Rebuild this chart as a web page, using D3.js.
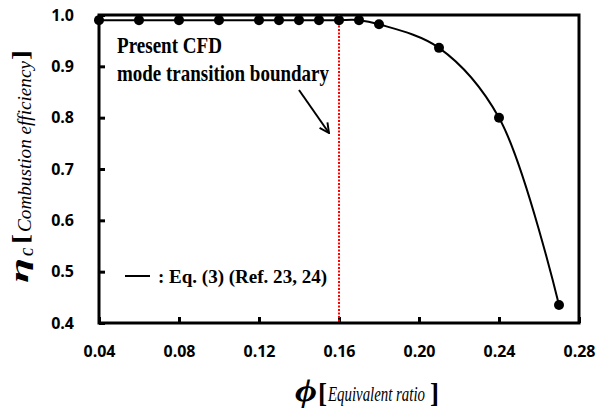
<!DOCTYPE html>
<html>
<head>
<meta charset="utf-8">
<script src="https://cdn.jsdelivr.net/npm/d3@7"></script>
<style>
  html, body { margin: 0; padding: 0; background: #fff; }
  svg { display: block; }
  .serif { font-family: "Liberation Serif", "Times New Roman", Times, "DejaVu Serif", serif; }
  .tick text { font-family: "Open Sans", "Noto Sans", sans-serif; }
</style>
</head>
<body>
<svg id="chart" width="605" height="409"></svg>
<script>
// ---- data ----
const phiValues = [0.04, 0.06, 0.08, 0.10, 0.12, 0.13, 0.14, 0.15, 0.16, 0.17, 0.18, 0.21, 0.24, 0.27];
const etaValues = [0.99, 0.99, 0.99, 0.99, 0.99, 0.99, 0.99, 0.99, 0.99, 0.99, 0.982, 0.936, 0.80, 0.435];
const xTicks = [0.04, 0.08, 0.12, 0.16, 0.20, 0.24, 0.28];
const yTicks = [0.4, 0.5, 0.6, 0.7, 0.8, 0.9, 1.0];
const boundaryPhi = [0.16];
const legendLabel = [": Eq. (3) (Ref. 23, 24)"];
const annotationLines = ["Present CFD", "mode transition boundary"];
const yTitleParts = ["η", "C", "[", "Combustion efficiency", "]"];
const xTitleParts = ["ϕ", "[", "Equivalent ratio", "]"];

const svg = d3.select("#chart");
const m = { left: 99, right: 579, top: 15, bottom: 323 };
const x = d3.scaleLinear().domain([0.04, 0.28]).range([m.left, m.right]);
const y = d3.scaleLinear().domain([0.4, 1.0]).range([m.bottom, m.top]);

// frame
svg.append("rect")
  .attr("x", m.left).attr("y", m.top)
  .attr("width", m.right - m.left).attr("height", m.bottom - m.top)
  .attr("fill", "none").attr("stroke", "#000").attr("stroke-width", 3);

// axes
const xAxis = d3.axisBottom(x).tickValues(xTicks).tickSizeInner(-6).tickSizeOuter(0)
  .tickFormat(d3.format(".2f")).tickPadding(23);
const gx = svg.append("g").attr("transform", `translate(0,${m.bottom})`).call(xAxis);
gx.select(".domain").remove();
gx.attr("font-family", null);
gx.selectAll(".tick line").attr("stroke", "#000").attr("stroke-width", 3);
gx.selectAll(".tick text").attr("font-weight", "bold").attr("font-size", 16).attr("fill", "#000");

const yAxis = d3.axisLeft(y).tickValues(yTicks).tickSizeInner(-6).tickSizeOuter(0)
  .tickFormat(d3.format(".1f")).tickPadding(25);
const gy = svg.append("g").attr("transform", `translate(${m.left},0)`).call(yAxis);
gy.select(".domain").remove();
gy.attr("font-family", null);
gy.selectAll(".tick line").attr("stroke", "#000").attr("stroke-width", 3);
gy.selectAll(".tick text").attr("font-weight", "bold").attr("font-size", 16).attr("fill", "#000");

// boundary line
svg.selectAll(".boundary").data(boundaryPhi).enter().append("line")
  .attr("x1", d => x(d)).attr("x2", d => x(d))
  .attr("y1", m.top).attr("y2", m.bottom)
  .attr("stroke", "#ff0000").attr("stroke-width", 2).attr("stroke-dasharray", "2,1.5");

// data
const pts = phiValues.map((p, i) => [p, etaValues[i]]);
const line = d3.line().x(d => x(d[0])).y(d => y(d[1])).curve(d3.curveCatmullRom.alpha(0.5));
svg.append("path").datum(pts).attr("d", line)
  .attr("fill", "none").attr("stroke", "#000").attr("stroke-width", 2);
svg.selectAll(".pt").data(pts).enter().append("circle")
  .attr("cx", d => x(d[0])).attr("cy", d => y(d[1])).attr("r", 5).attr("fill", "#000");

// annotation
const annLayout = [{ y: 53, len: 105 }, { y: 81, len: 212 }];
svg.selectAll(".ann").data(annotationLines).enter().append("text")
  .attr("class", "serif")
  .attr("x", 117).attr("y", (d, i) => annLayout[i].y)
  .attr("font-weight", "bold").attr("font-size", 22.5).attr("fill", "#000")
  .attr("textLength", (d, i) => annLayout[i].len).attr("lengthAdjust", "spacingAndGlyphs")
  .text(d => d);

// arrow
svg.append("defs").append("marker").attr("id", "ah")
  .attr("viewBox", "0 0 10 10").attr("refX", 9).attr("refY", 5)
  .attr("markerWidth", 6).attr("markerHeight", 6).attr("orient", "auto")
  .append("path").attr("d", "M1,1 L9,5 L1,9").attr("fill", "none").attr("stroke", "#000").attr("stroke-width", 1.6);
svg.append("line").attr("x1", 299).attr("y1", 90).attr("x2", 329).attr("y2", 133)
  .attr("stroke", "#000").attr("stroke-width", 2).attr("marker-end", "url(#ah)");

// legend
svg.append("line").attr("x1", 125).attr("x2", 150).attr("y1", 276).attr("y2", 276)
  .attr("stroke", "#000").attr("stroke-width", 2);
svg.selectAll(".leg").data(legendLabel).enter().append("text")
  .attr("class", "serif")
  .attr("x", 158).attr("y", 283)
  .attr("font-weight", "bold").attr("font-size", 19.5)
  .attr("textLength", 169).attr("lengthAdjust", "spacingAndGlyphs")
  .attr("fill", "#000").text(d => d);

// y title (rotated pieces)
const yLayout = [
  { bx: 28, y0: 283, len: 25, fs: 26, st: "italic", w: "bold" },
  { bx: 33, y0: 256, len: 8, fs: 14, st: "italic", w: "bold" },
  { bx: 27.5, y0: 244, len: 10, fs: 23, st: "normal", w: "bold" },
  { bx: 30.5, y0: 232, len: 171, fs: 19, st: "italic", w: "normal" },
  { bx: 27.5, y0: 60, len: 10, fs: 23, st: "normal", w: "bold" }
];
svg.selectAll(".ytitle").data(yTitleParts).enter().append("text")
  .attr("class", "serif")
  .attr("transform", (d, i) => `translate(${yLayout[i].bx},${yLayout[i].y0}) rotate(-90)`)
  .attr("font-size", (d, i) => yLayout[i].fs)
  .attr("font-style", (d, i) => yLayout[i].st)
  .attr("font-weight", (d, i) => yLayout[i].w)
  .attr("textLength", (d, i) => yLayout[i].len).attr("lengthAdjust", "spacingAndGlyphs")
  .attr("fill", "#000").text(d => d);

// x title pieces
const xLayout = [
  { x: 295, by: 401, len: 22, fs: 31, st: "italic", w: "bold" },
  { x: 318, by: 402, len: 9, fs: 28, st: "normal", w: "bold" },
  { x: 328, by: 401, len: 97, fs: 20, st: "italic", w: "normal" },
  { x: 430, by: 402, len: 9, fs: 28, st: "normal", w: "bold" }
];
svg.selectAll(".xtitle").data(xTitleParts).enter().append("text")
  .attr("class", "serif")
  .attr("x", (d, i) => xLayout[i].x).attr("y", (d, i) => xLayout[i].by)
  .attr("font-size", (d, i) => xLayout[i].fs)
  .attr("font-style", (d, i) => xLayout[i].st)
  .attr("font-weight", (d, i) => xLayout[i].w)
  .attr("textLength", (d, i) => xLayout[i].len).attr("lengthAdjust", "spacingAndGlyphs")
  .attr("fill", "#000").text(d => d);
</script>
</body>
</html>
